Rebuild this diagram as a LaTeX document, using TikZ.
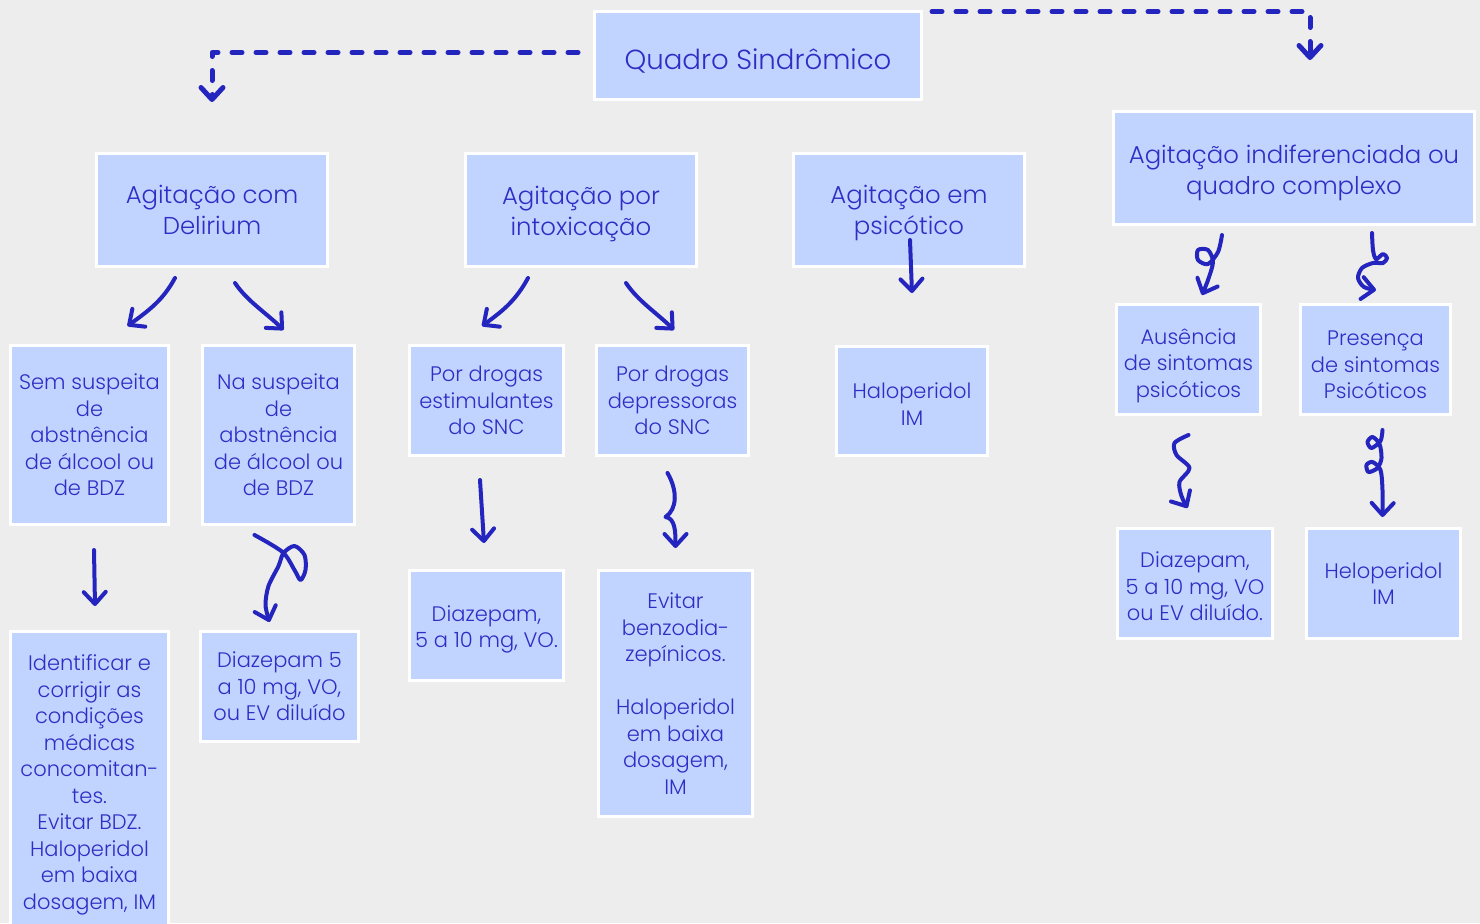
\documentclass[tikz,border=0pt]{standalone}
\usepackage{fontspec}
\IfFontExistsTF{Poppins Light}{\setmainfont{Poppins Light}}{\setmainfont{Poppins}}
\usetikzlibrary{arrows.meta}

\definecolor{bgcol}{HTML}{EDEDED}
\definecolor{boxcol}{HTML}{C1D3FF}
\definecolor{inkcol}{HTML}{2424BE}
\definecolor{txtcol}{HTML}{2E2EC4}

\newcommand{\lift}[1]{\rule{0pt}{#1}}

\tikzset{
  box/.style={draw=white,line width=1.5pt,fill=boxcol,text=txtcol,align=center,inner sep=0pt},
  bigbox/.style={box,font=\fontsize{12.2}{15.5}\selectfont},
  smallbox/.style={box,font=\fontsize{10.5}{13.25}\selectfont},
  arr/.style={draw=inkcol,line width=2pt,line cap=round,line join=round,-{Straight Barb[length=6pt,width=11pt,round]}},
  dasharr/.style={arr,line width=2.5pt,dash pattern=on 5pt off 7pt}
}

\begin{document}
\begin{tikzpicture}[x=0.5pt,y=-0.5pt]

\fill[bgcol] (0,0) rectangle (1480,923);
\useasboundingbox (0,0) rectangle (1480,923);

% top row
\node[bigbox,font=\fontsize{13.8}{15.5}\selectfont,minimum width=163.5pt,minimum height=44pt] (quadro) at (758,55.5) {\lift{16pt}Quadro Sindrômico};
\node[bigbox,minimum width=115.5pt,minimum height=56.5pt] (delir) at (212,210) {Agitação com\\Delirium};
\node[bigbox,minimum width=115.5pt,minimum height=56.5pt] (intox) at (581,210) {\lift{13pt}Agitação por\\intoxicação};
\node[bigbox,minimum width=115.5pt,minimum height=56.5pt] (psic) at (909,210) {\lift{12pt}Agitação em\\psicótico};
\node[bigbox,minimum width=180.5pt,minimum height=56.5pt] (indif) at (1294,168) {\lift{14pt}Agitação indiferenciada ou\\quadro complexo};

% second row
\node[smallbox,minimum width=79pt,minimum height=89.5pt] (semsusp) at (89.5,435) {Sem suspeita\\de\\abstnência\\de álcool ou\\de BDZ};
\node[smallbox,minimum width=76pt,minimum height=89.5pt] (nasusp) at (278.5,435) {Na suspeita\\de\\abstnência\\de álcool ou\\de BDZ};
\node[smallbox,minimum width=77pt,minimum height=55pt] (estim) at (486.5,400.5) {Por drogas\\estimulantes\\do SNC};
\node[smallbox,minimum width=76pt,minimum height=55pt] (depres) at (672.5,400.5) {Por drogas\\depressoras\\do SNC};
\node[smallbox,minimum width=75.5pt,minimum height=54.5pt] (halo) at (912,401) {\lift{11pt}Haloperidol\\IM};
\node[smallbox,minimum width=72pt,minimum height=55pt] (ausen) at (1188.5,359.5) {\lift{14pt}Ausência\\de sintomas\\psicóticos};
\node[smallbox,minimum width=75pt,minimum height=55pt] (presen) at (1375.5,359.5) {\lift{13pt}Presença\\de sintomas\\Psicóticos};

% third row
\node[smallbox,minimum width=79pt,minimum height=153.5pt] (ident) at (89.5,785) {Identificar e\\corrigir as\\condições\\médicas\\concomitan-\\tes.\\Evitar BDZ.\\Haloperidol\\em baixa\\dosagem, IM};
\node[smallbox,minimum width=79pt,minimum height=55pt] (diazA) at (279.5,686.5) {Diazepam 5\\a 10 mg, VO,\\ou EV diluído};
\node[smallbox,minimum width=77pt,minimum height=55pt] (diazB) at (486.5,625.5) {\lift{12pt}Diazepam,\\5 a 10 mg, VO.};
\node[smallbox,minimum width=77pt,minimum height=123pt] (evitar) at (675.5,693.5) {Evitar\\benzodia-\\zepínicos.\\[13.25pt]Haloperidol\\em baixa\\dosagem,\\IM};
\node[smallbox,minimum width=77.5pt,minimum height=55pt] (diazC) at (1195,583.5) {\lift{11pt}Diazepam,\\5 a 10 mg, VO\\ou EV diluído.};
\node[smallbox,minimum width=77pt,minimum height=55pt] (helo) at (1383.5,583.5) {Heloperidol\\IM};

% dashed connectors
\draw[dasharr] ([shift={(-15,-3)}]quadro.west) -| ([shift={(0,-50)}]delir.north);
\draw[dasharr] ([shift={(9,-44)}]quadro.east) -| ([shift={(16,-50)}]indif.north);

% hand drawn arrows
\draw[arr] ([shift={(-37,10)}]delir.south) .. controls +(-12,22) and +(22,-16) .. ([shift={(38,-18)}]semsusp.north);
\draw[arr] ([shift={(23,15)}]delir.south) .. controls +(12,18) and +(-16,-16) .. ([shift={(5,-14)}]nasusp.north);
\draw[arr] ([shift={(-53,10)}]intox.south) .. controls +(-12,22) and +(22,-16) .. ([shift={(-4.5,-18)}]estim.north);
\draw[arr] ([shift={(45,15)}]intox.south) .. controls +(12,18) and +(-16,-16) .. ([shift={(1.5,-14)}]depres.north);
\draw[arr] ([shift={(1,-28)}]psic.south) -- ([shift={(0,-52)}]halo.north);

\draw[arr] ([shift={(4.5,24)}]semsusp.south) -- ([shift={(5.5,-24)}]ident.north);
\draw[arr,shift={(nasusp.south)}] plot[smooth] coordinates {(-24,9) (4,26) (16,44) (22,54) (27,44) (26,29) (16,20) (5,27) (0,40) (-10,60) (-13,79) (-9,96)};
\draw[arr] ([shift={(-6.5,23)}]estim.south) -- ([shift={(-2.5,-26)}]diazB.north);
\draw[arr] ([shift={(-5,16)}]depres.south) .. controls +(10,17) and +(12,-8) .. ([shift={(-10,-52)}]evitar.north)
  .. controls +(10,1) and +(0,-15) .. ([shift={(0,-21)}]evitar.north);

\draw[arr,shift={(indif.south)}] plot[smooth] coordinates {(-72,9) (-76,26) (-86,38) (-96,34) (-96,24) (-86,24) (-81,36) (-86,54) (-92,69)};
\draw[arr,shift={(indif.south)}] plot[smooth] coordinates {(78,7) (79,24) (82,33) (89,28) (93,32) (89,37) (79,37) (68,42) (64,52) (70,61) (82,64)};
\draw[arr,shift={(ausen.south)}] plot[smooth] coordinates {(0,19) (-14,27) (-12,39) (1,52) (-9,66) (-7,80) (-1,92)};
\draw[arr,shift={(presen.south)}] plot[smooth] coordinates {(7,14) (5,25) (-4,32) (-8,26) (-3,21) (4,28) (6,42) (2,52) (-7,56) (-9,49) (-3,46) (5,54) (7,74) (7,101)};

\end{tikzpicture}
\end{document}
